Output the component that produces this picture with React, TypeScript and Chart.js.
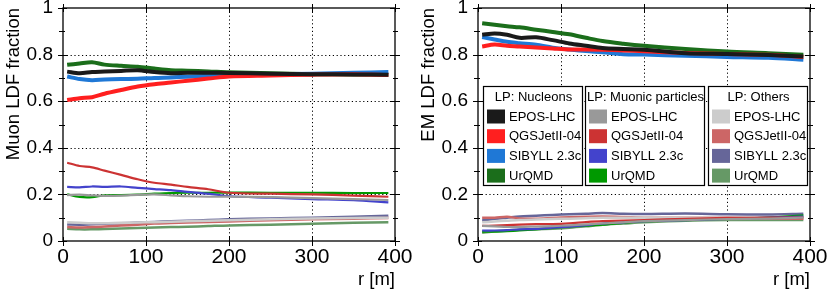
import React, { useEffect, useRef } from "react";
import { Chart, registerables } from "chart.js";

Chart.register(...registerables);

const FONT = "'Liberation Sans', Arial, Helvetica, sans-serif";

// ---------- data ----------
const R = [5, 20, 35, 50, 70, 90, 110, 130, 150, 175, 200, 250, 300, 350, 392];

const MODELS = ["EPOS-LHC", "QGSJetII-04", "SIBYLL 2.3c", "UrQMD"];
const GROUPS = ["LP: Nucleons", "LP: Muonic particles", "LP: Others"];

const COLORS_NUC = ["#1a1a1a", "#ff1f1f", "#1f78d6", "#1b6e1b"];
const COLORS_MUO = ["#999999", "#cc3333", "#4343cc", "#009900"];
const COLORS_OTH = ["#cccccc", "#cc6666", "#666699", "#669966"];

const X_TICKS = [0, 100, 200, 300, 400];
const Y_TICKS = [0, 0.2, 0.4, 0.6, 0.8, 1];
const Y_MINOR = [0.1, 0.3, 0.5, 0.7, 0.9];

// Muon LDF fraction
const MU_NUC_EPOS = [0.727, 0.72, 0.725, 0.727, 0.73, 0.733, 0.725, 0.72, 0.722, 0.722, 0.721, 0.718, 0.716, 0.715, 0.714];
const MU_NUC_QGS = [0.605, 0.613, 0.617, 0.632, 0.648, 0.663, 0.673, 0.68, 0.688, 0.697, 0.706, 0.71, 0.714, 0.716, 0.712];
const MU_NUC_SIB = [0.706, 0.695, 0.69, 0.693, 0.695, 0.696, 0.7, 0.702, 0.705, 0.709, 0.713, 0.716, 0.718, 0.722, 0.725];
const MU_NUC_UR = [0.756, 0.762, 0.767, 0.757, 0.752, 0.748, 0.74, 0.733, 0.731, 0.728, 0.724, 0.72, 0.716, 0.715, 0.713];
const MU_MUO_EPOS = [0.197, 0.199, 0.196, 0.194, 0.195, 0.198, 0.2, 0.196, 0.192, 0.19, 0.19, 0.188, 0.184, 0.18, 0.176];
const MU_MUO_QGS = [0.336, 0.322, 0.316, 0.302, 0.284, 0.265, 0.25, 0.242, 0.232, 0.222, 0.207, 0.203, 0.2, 0.195, 0.19];
const MU_MUO_SIB = [0.232, 0.23, 0.234, 0.232, 0.234, 0.228, 0.223, 0.218, 0.211, 0.203, 0.192, 0.186, 0.18, 0.175, 0.166];
const MU_MUO_UR = [0.2, 0.189, 0.188, 0.196, 0.197, 0.199, 0.203, 0.206, 0.207, 0.207, 0.208, 0.207, 0.207, 0.206, 0.206];
const MU_OTH_EPOS = [0.08, 0.078, 0.076, 0.076, 0.078, 0.079, 0.081, 0.083, 0.085, 0.087, 0.089, 0.093, 0.097, 0.099, 0.1];
const MU_OTH_QGS = [0.06, 0.058, 0.06, 0.062, 0.066, 0.07, 0.075, 0.077, 0.079, 0.082, 0.084, 0.089, 0.093, 0.096, 0.099];
const MU_OTH_SIB = [0.071, 0.07, 0.072, 0.074, 0.076, 0.079, 0.082, 0.085, 0.087, 0.09, 0.093, 0.097, 0.1, 0.104, 0.108];
const MU_OTH_UR = [0.053, 0.05, 0.05, 0.051, 0.054, 0.056, 0.058, 0.06, 0.061, 0.064, 0.067, 0.07, 0.074, 0.078, 0.081];

// EM LDF fraction
const EM_NUC_EPOS = [0.885, 0.891, 0.885, 0.872, 0.874, 0.862, 0.848, 0.838, 0.828, 0.824, 0.821, 0.806, 0.803, 0.798, 0.792];
const EM_NUC_QGS = [0.835, 0.843, 0.838, 0.835, 0.83, 0.826, 0.822, 0.822, 0.821, 0.818, 0.814, 0.807, 0.803, 0.799, 0.79];
const EM_NUC_SIB = [0.875, 0.865, 0.855, 0.849, 0.842, 0.83, 0.822, 0.815, 0.81, 0.802, 0.8, 0.795, 0.79, 0.786, 0.778];
const EM_NUC_UR = [0.935, 0.928, 0.922, 0.917, 0.907, 0.897, 0.887, 0.872, 0.858, 0.847, 0.838, 0.824, 0.813, 0.806, 0.799];
const EM_MUO_EPOS = [0.065, 0.063, 0.06, 0.06, 0.062, 0.064, 0.067, 0.071, 0.075, 0.08, 0.085, 0.09, 0.094, 0.096, 0.1];
const EM_MUO_QGS = [0.065, 0.066, 0.068, 0.07, 0.072, 0.073, 0.076, 0.081, 0.085, 0.088, 0.09, 0.095, 0.099, 0.1, 0.1];
const EM_MUO_SIB = [0.045, 0.045, 0.047, 0.05, 0.052, 0.057, 0.062, 0.068, 0.075, 0.08, 0.085, 0.09, 0.095, 0.1, 0.105];
const EM_MUO_UR = [0.04, 0.04, 0.042, 0.045, 0.05, 0.056, 0.062, 0.066, 0.07, 0.078, 0.085, 0.09, 0.095, 0.1, 0.11];
const EM_OTH_EPOS = [0.08, 0.084, 0.087, 0.09, 0.092, 0.094, 0.096, 0.098, 0.1, 0.1, 0.1, 0.1, 0.1, 0.102, 0.105];
const EM_OTH_QGS = [0.1, 0.1, 0.104, 0.097, 0.096, 0.099, 0.102, 0.104, 0.105, 0.103, 0.1, 0.1, 0.1, 0.097, 0.095];
const EM_OTH_SIB = [0.088, 0.095, 0.1, 0.105, 0.108, 0.112, 0.115, 0.117, 0.12, 0.117, 0.116, 0.118, 0.115, 0.114, 0.117];
const EM_OTH_UR = [0.035, 0.042, 0.045, 0.048, 0.05, 0.053, 0.057, 0.063, 0.07, 0.075, 0.08, 0.087, 0.09, 0.09, 0.09];

// ---------- helpers ----------
function makeDatasets(nuc: number[][], muo: number[][], oth: number[][]) {
  const ds: any[] = [];
  const add = (vals: number[], color: string, width: number, label: string) =>
    ds.push({
      label,
      data: R.map((r, i) => ({ x: r, y: vals[i] })),
      borderColor: color,
      backgroundColor: color,
      borderWidth: width,
      pointRadius: 0,
      tension: 0.3,
      fill: false,
      borderJoinStyle: "round",
    });
  nuc.forEach((v, i) => add(v, COLORS_NUC[i], 4, GROUPS[0] + " " + MODELS[i]));
  muo.forEach((v, i) => add(v, COLORS_MUO[i], 2.2, GROUPS[1] + " " + MODELS[i]));
  oth.forEach((v, i) => add(v, COLORS_OTH[i], 2.5, GROUPS[2] + " " + MODELS[i]));
  return ds;
}

const framePlugin = {
  id: "frame",
  beforeDatasetsDraw(chart: any) {
    const { ctx, chartArea: a, scales } = chart;
    const x = scales.x, y = scales.y;
    ctx.save();
    ctx.strokeStyle = "#000";
    ctx.lineWidth = 1;
    ctx.setLineDash([1.2, 2.6]);
    ctx.beginPath();
    for (const v of X_TICKS) {
      if (v <= x.min || v >= x.max) continue;
      const px = Math.round(x.getPixelForValue(v)) + 0.5;
      ctx.moveTo(px, a.top);
      ctx.lineTo(px, a.bottom);
    }
    for (const v of Y_TICKS) {
      if (v <= y.min || v >= y.max) continue;
      const py = Math.round(y.getPixelForValue(v)) + 0.5;
      ctx.moveTo(a.left, py);
      ctx.lineTo(a.right, py);
    }
    ctx.stroke();
    ctx.restore();
  },
  afterDatasetsDraw(chart: any) {
    const { ctx, chartArea: a, scales } = chart;
    const x = scales.x, y = scales.y;
    ctx.save();
    ctx.strokeStyle = "#000";
    ctx.lineWidth = 1.3;
    ctx.setLineDash([]);
    ctx.strokeRect(a.left, a.top, a.right - a.left, a.bottom - a.top);
    ctx.lineWidth = 1;
    ctx.beginPath();
    for (const v of X_TICKS) {
      const px = Math.round(x.getPixelForValue(v)) + 0.5;
      ctx.moveTo(px, a.bottom - 4);
      ctx.lineTo(px, a.bottom + 5);
      ctx.moveTo(px, a.top - 4);
      ctx.lineTo(px, a.top + 4);
    }
    for (const v of Y_TICKS) {
      const py = Math.round(y.getPixelForValue(v)) + 0.5;
      ctx.moveTo(a.left - 5, py);
      ctx.lineTo(a.left + 4, py);
      ctx.moveTo(a.right - 5, py);
      ctx.lineTo(a.right + 5, py);
    }
    for (const v of Y_MINOR) {
      const py = Math.round(y.getPixelForValue(v)) + 0.5;
      ctx.moveTo(a.left - 4, py);
      ctx.lineTo(a.left + 2, py);
      ctx.moveTo(a.right - 2, py);
      ctx.lineTo(a.right + 3, py);
    }
    ctx.stroke();
    ctx.restore();
  },
};

const LEGEND_COLORS = [COLORS_NUC, COLORS_MUO, COLORS_OTH];

const legendPlugin = {
  id: "lpLegend",
  afterDraw(chart: any) {
    const { ctx } = chart;
    const boxes = [
      { x: 68, w: 99 },
      { x: 170, w: 119 },
      { x: 293, w: 99 },
    ];
    const top = 86, h = 99;
    ctx.save();
    boxes.forEach((b, gi) => {
      ctx.fillStyle = "#fff";
      ctx.fillRect(b.x, top, b.w, h);
      ctx.strokeStyle = "#000";
      ctx.lineWidth = 1.2;
      ctx.strokeRect(b.x + 0.5, top + 0.5, b.w, h);
      ctx.fillStyle = "#000";
      ctx.font = `13px ${FONT}`;
      ctx.textBaseline = "middle";
      ctx.textAlign = "center";
      ctx.fillText(GROUPS[gi], b.x + b.w / 2 + 1, top + 11.5);
      MODELS.forEach((m, i) => {
        const cy = top + 30.5 + i * 19.7;
        ctx.fillStyle = LEGEND_COLORS[gi][i];
        ctx.fillRect(b.x + 4, cy - 7, 18, 14);
        ctx.fillStyle = "#000";
        ctx.textAlign = "left";
        ctx.fillText(m, b.x + 26, cy + 0.5);
      });
    });
    ctx.restore();
  },
};

function Panel({ title, datasets, legend }: { title: string; datasets: any[]; legend: boolean }) {
  const ref = useRef<HTMLCanvasElement>(null);
  useEffect(() => {
    const chart = new Chart(ref.current as HTMLCanvasElement, {
      type: "line",
      data: { datasets },
      options: {
        animation: false,
        responsive: false,
        devicePixelRatio: 1,
        layout: { padding: { top: 8, right: 20, left: 0, bottom: 0 } },
        plugins: { legend: { display: false }, tooltip: { enabled: false } },
        scales: {
          x: {
            type: "linear",
            min: 0,
            max: 400,
            grid: { display: false, drawTicks: false },
            border: { display: false },
            ticks: {
              stepSize: 100,
              autoSkip: false,
              maxRotation: 0,
              color: "#000",
              padding: 4,
              font: { size: 21, family: FONT },
            },
            title: {
              display: true,
              text: "r [m]",
              align: "end",
              color: "#000",
              font: { size: 18.5, family: FONT },
              padding: { top: 0, bottom: 1 },
            },
            afterFit: (s: any) => {
              s.height = 51;
              s.paddingLeft = 0;
              s.paddingRight = 0;
            },
          },
          y: {
            type: "linear",
            min: 0,
            max: 1,
            grid: { display: false, drawTicks: false },
            border: { display: false },
            ticks: {
              stepSize: 0.2,
              autoSkip: false,
              color: "#000",
              padding: 10,
              font: { size: 19, family: FONT, lineHeight: 0.8 },
              callback: (v: any) => String(Number(Number(v).toFixed(1))),
            },
            title: {
              display: true,
              text: title,
              align: "end",
              color: "#000",
              font: { size: 18.5, family: FONT },
              padding: { top: 3, bottom: 0 },
            },
            afterFit: (s: any) => {
              s.width = 63;
              s.paddingTop = 0;
              s.paddingBottom = 0;
            },
          },
        },
      } as any,
      plugins: legend ? [framePlugin, legendPlugin] : [framePlugin],
    });
    return () => chart.destroy();
  }, []);
  return <canvas ref={ref} width={415} height={292} style={{ display: "block", width: 415, height: 292 }} />;
}

export default function App() {
  useEffect(() => {
    document.body.style.margin = "0";
  }, []);
  const muon = makeDatasets(
    [MU_NUC_EPOS, MU_NUC_QGS, MU_NUC_SIB, MU_NUC_UR],
    [MU_MUO_EPOS, MU_MUO_QGS, MU_MUO_SIB, MU_MUO_UR],
    [MU_OTH_EPOS, MU_OTH_QGS, MU_OTH_SIB, MU_OTH_UR]
  );
  const em = makeDatasets(
    [EM_NUC_EPOS, EM_NUC_QGS, EM_NUC_SIB, EM_NUC_UR],
    [EM_MUO_EPOS, EM_MUO_QGS, EM_MUO_SIB, EM_MUO_UR],
    [EM_OTH_EPOS, EM_OTH_QGS, EM_OTH_SIB, EM_OTH_UR]
  );
  return (
    <div style={{ display: "flex", width: 830, height: 292, background: "#fff" }}>
      <Panel title="Muon LDF fraction" datasets={muon} legend={false} />
      <Panel title="EM LDF fraction" datasets={em} legend={true} />
    </div>
  );
}
